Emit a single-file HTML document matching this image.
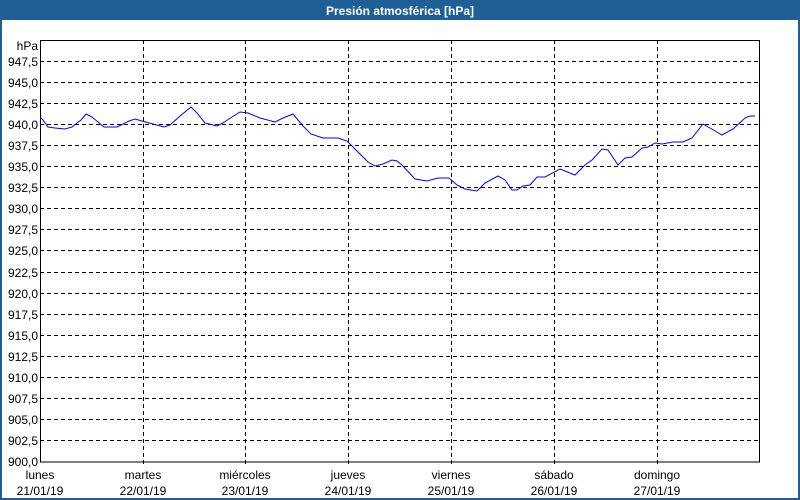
<!DOCTYPE html>
<html><head><meta charset="utf-8"><style>
html,body{margin:0;padding:0;background:#fff;}
body{width:800px;height:500px;overflow:hidden;position:relative;}
</style></head><body>
<svg width="800" height="500" xmlns="http://www.w3.org/2000/svg" style="position:absolute;left:0;top:0;font-family:'Liberation Sans','DejaVu Sans',sans-serif;">
<rect x="0" y="0" width="800" height="500" fill="#fff"/>
<rect x="1" y="1" width="798" height="498" fill="none" stroke="#1e6096" stroke-width="2"/>
<rect x="0" y="0" width="800" height="20" fill="#1e6096"/>
<text x="400" y="15" fill="#fff" font-size="12" font-weight="bold" text-anchor="middle">Presión atmosférica [hPa]</text>
<g stroke="#000" stroke-width="1" stroke-dasharray="4,3" fill="none">
<line x1="40" x2="760" y1="61.5" y2="61.5"/>
<line x1="40" x2="760" y1="82.5" y2="82.5"/>
<line x1="40" x2="760" y1="103.5" y2="103.5"/>
<line x1="40" x2="760" y1="124.5" y2="124.5"/>
<line x1="40" x2="760" y1="145.5" y2="145.5"/>
<line x1="40" x2="760" y1="166.5" y2="166.5"/>
<line x1="40" x2="760" y1="187.5" y2="187.5"/>
<line x1="40" x2="760" y1="208.5" y2="208.5"/>
<line x1="40" x2="760" y1="229.5" y2="229.5"/>
<line x1="40" x2="760" y1="250.5" y2="250.5"/>
<line x1="40" x2="760" y1="272.5" y2="272.5"/>
<line x1="40" x2="760" y1="293.5" y2="293.5"/>
<line x1="40" x2="760" y1="314.5" y2="314.5"/>
<line x1="40" x2="760" y1="335.5" y2="335.5"/>
<line x1="40" x2="760" y1="356.5" y2="356.5"/>
<line x1="40" x2="760" y1="377.5" y2="377.5"/>
<line x1="40" x2="760" y1="398.5" y2="398.5"/>
<line x1="40" x2="760" y1="419.5" y2="419.5"/>
<line x1="40" x2="760" y1="440.5" y2="440.5"/>
<line x1="143.5" x2="143.5" y1="40" y2="466"/>
<line x1="245.5" x2="245.5" y1="40" y2="466"/>
<line x1="348.5" x2="348.5" y1="40" y2="466"/>
<line x1="451.5" x2="451.5" y1="40" y2="466"/>
<line x1="554.5" x2="554.5" y1="40" y2="466"/>
<line x1="657.5" x2="657.5" y1="40" y2="466"/>
</g>
<rect x="40.5" y="40.5" width="719" height="421.5" fill="none" stroke="#000" stroke-width="1"/>
<polyline fill="none" stroke="#0000ff" stroke-width="1" points="40,117 43,120 48,127 55,128 65,129 72,127 77,123 81,120 86,114 92,117 98,122 104,127 117,127 123,124 129,121 135,119 142,121 153,124 164,127 170,125 180,116 191,107 197,113 205,123 217,126 223,123 232,117 240,112 248,113 260,118 275,122 283,118 293,114 298,120 303,126 311,134 323,138 338,138 347,141 352,146 360,154 368,162 375,166 383,164 392,160 397,161 402,165 415,179 427,181 438,178 449,178 457,185 465,189 477,191 485,183 498,176 505,180 512,190 517,190 523,186 530,185 537,177 545,177 560,169 575,175 585,165 592,160 602,149 608,150 618,165 625,158 632,157 642,148 648,147 655,143 662,144 673,142 683,142 692,138 703,124 710,128 722,135 733,129 745,118 750,116 755,116"/>
<g font-size="12" fill="#000" text-anchor="end">
<text x="38" y="50">hPa</text>
<text x="38" y="66">947,5</text>
<text x="38" y="87">945,0</text>
<text x="38" y="108">942,5</text>
<text x="38" y="129">940,0</text>
<text x="38" y="150">937,5</text>
<text x="38" y="171">935,0</text>
<text x="38" y="192">932,5</text>
<text x="38" y="213">930,0</text>
<text x="38" y="234">927,5</text>
<text x="38" y="255">925,0</text>
<text x="38" y="277">922,5</text>
<text x="38" y="298">920,0</text>
<text x="38" y="319">917,5</text>
<text x="38" y="340">915,0</text>
<text x="38" y="361">912,5</text>
<text x="38" y="382">910,0</text>
<text x="38" y="403">907,5</text>
<text x="38" y="424">905,0</text>
<text x="38" y="445">902,5</text>
<text x="38" y="466">900,0</text>
</g>
<g font-size="12" fill="#000" text-anchor="middle">
<text x="40" y="479">lunes</text><text x="40" y="495">21/01/19</text>
<text x="143" y="479">martes</text><text x="143" y="495">22/01/19</text>
<text x="245" y="479">miércoles</text><text x="245" y="495">23/01/19</text>
<text x="348" y="479">jueves</text><text x="348" y="495">24/01/19</text>
<text x="451" y="479">viernes</text><text x="451" y="495">25/01/19</text>
<text x="554" y="479">sábado</text><text x="554" y="495">26/01/19</text>
<text x="657" y="479">domingo</text><text x="657" y="495">27/01/19</text>
</g>
</svg>
</body></html>
